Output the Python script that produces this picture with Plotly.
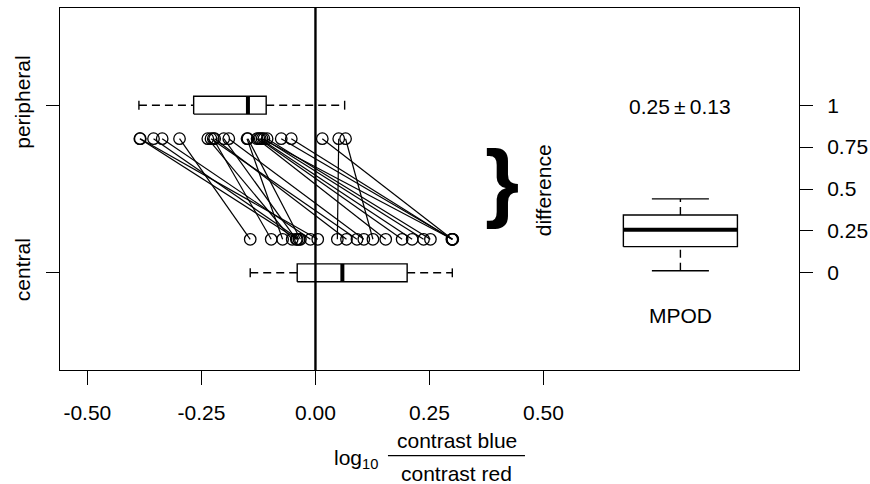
import plotly.graph_objects as go

# ---- data ----
peripheral = [-0.385, -0.384, -0.355, -0.336, -0.298, -0.236, -0.229, -0.224, -0.221, -0.201,
              -0.190, -0.150, -0.148, -0.128, -0.124, -0.121, -0.117, -0.113, -0.106, -0.075,
              -0.053, 0.015, 0.051, 0.066]
central = [-0.040, 0.005, -0.036, -0.011, -0.143, -0.051, 0.091, -0.097, 0.068, -0.042,
           0.106, -0.072, -0.033, 0.154, 0.190, 0.212, 0.300, 0.237, 0.252, 0.301,
           0.299, 0.300, 0.048, 0.126]
row_y = {"peripheral": 0.8, "central": 0.2}

box_names = ["peripheral", "central"]
box_pos = [1, 0]
box_lo = [-0.387, -0.143]
box_q1 = [-0.267, -0.040]
box_med = [-0.148, 0.059]
box_q3 = [-0.108, 0.201]
box_hi = [0.064, 0.300]

mpod_x = 0.8
mpod_stats = [0.012, 0.156, 0.257, 0.345, 0.441]  # lo, q1, med, q3, hi
mpod_label = "MPOD"
diff_text = "0.25\u2009\u00b1\u20090.13"

x_ticks = [-0.5, -0.25, 0.0, 0.25, 0.5]
x_ticktext = ["-0.50", "-0.25", "0.00", "0.25", "0.50"]
right_ticks = [0, 0.25, 0.5, 0.75, 1]
right_ticktext = ["0", "0.25", "0.5", "0.75", "1"]

FONT = "Liberation Sans, Arial, sans-serif"
LW = 1.4
DASH = "8px,5px"
fig = go.Figure()

# zero line
fig.add_trace(go.Scatter(x=[0, 0], y=[-0.58, 1.58], mode="lines",
                         line=dict(color="black", width=2.4), hoverinfo="skip", showlegend=False))

# connecting lines
lx, ly = [], []
for p, c in zip(peripheral, central):
    lx += [p, c, None]
    ly += [row_y["peripheral"], row_y["central"], None]
fig.add_trace(go.Scatter(x=lx, y=ly, mode="lines", line=dict(color="black", width=1.2),
                         hoverinfo="skip", showlegend=False))
# points
fig.add_trace(go.Scatter(x=peripheral + central,
                         y=[row_y["peripheral"]] * len(peripheral) + [row_y["central"]] * len(central),
                         mode="markers",
                         marker=dict(symbol="circle-open", size=11.5, color="black", line=dict(width=1.3)),
                         showlegend=False))

# horizontal boxplots
hw = 0.053
for pos, lo, q1, med, q3, hi in zip(box_pos, box_lo, box_q1, box_med, box_q3, box_hi):
    fig.add_trace(go.Scatter(x=[q1, q3, q3, q1, q1], y=[pos - hw, pos - hw, pos + hw, pos + hw, pos - hw],
                             mode="lines", line=dict(color="black", width=LW), showlegend=False, hoverinfo="skip"))
    fig.add_trace(go.Scatter(x=[med, med], y=[pos - hw, pos + hw], mode="lines",
                             line=dict(color="black", width=4), showlegend=False, hoverinfo="skip"))
    fig.add_trace(go.Scatter(x=[lo, q1, None, q3, hi], y=[pos, pos, None, pos, pos], mode="lines",
                             line=dict(color="black", width=LW, dash=DASH), showlegend=False, hoverinfo="skip"))
    fig.add_trace(go.Scatter(x=[lo, lo, None, hi, hi],
                             y=[pos - hw / 2, pos + hw / 2, None, pos - hw / 2, pos + hw / 2],
                             mode="lines", line=dict(color="black", width=LW), showlegend=False, hoverinfo="skip"))

# vertical MPOD boxplot
bw = 0.125
lo, q1, med, q3, hi = mpod_stats
X = mpod_x
fig.add_trace(go.Scatter(x=[X - bw, X + bw, X + bw, X - bw, X - bw], y=[q1, q1, q3, q3, q1],
                         mode="lines", line=dict(color="black", width=LW), showlegend=False, hoverinfo="skip"))
fig.add_trace(go.Scatter(x=[X - bw, X + bw], y=[med, med], mode="lines",
                         line=dict(color="black", width=4), showlegend=False, hoverinfo="skip"))
fig.add_trace(go.Scatter(x=[X, X, None, X, X], y=[lo, q1, None, q3, hi], mode="lines",
                         line=dict(color="black", width=LW, dash=DASH), showlegend=False, hoverinfo="skip"))
fig.add_trace(go.Scatter(x=[X - bw / 2, X + bw / 2, None, X - bw / 2, X + bw / 2], y=[lo, lo, None, hi, hi],
                         mode="lines", line=dict(color="black", width=LW), showlegend=False, hoverinfo="skip"))

# dummy trace for right axis
fig.add_trace(go.Scatter(x=[None], y=[None], yaxis="y2", showlegend=False))

tf = dict(family=FONT, size=21, color="black")
fig.update_layout(
    width=870, height=484,
    margin=dict(l=60, r=71, t=8, b=114, autoexpand=False),
    paper_bgcolor="white", plot_bgcolor="white",
    showlegend=False,
    font=tf,
    xaxis=dict(range=[-0.56, 1.06], tickvals=x_ticks, ticktext=x_ticktext, ticks="outside",
               ticklen=14, tickwidth=1.3, tickcolor="black", showgrid=False, zeroline=False,
               showline=True, mirror=True, linecolor="black", linewidth=1.4, tickfont=tf,
               ticklabelstandoff=10, automargin=False),
    yaxis=dict(range=[-0.58, 1.58], tickvals=box_pos, ticktext=box_names, tickangle=-90,
               ticks="outside", ticklen=13, tickwidth=1.3, tickcolor="black", showgrid=False,
               zeroline=False, showline=True, mirror=True, linecolor="black", linewidth=1.4, tickfont=tf,
               ticklabelstandoff=7, automargin=False),
    yaxis2=dict(range=[-0.58, 1.58], overlaying="y", side="right", tickvals=right_ticks,
                ticktext=right_ticktext, ticks="outside", ticklen=13, tickwidth=1.3, tickcolor="black",
                showgrid=False, zeroline=False, showline=False, tickfont=tf, ticklabelstandoff=10,
                automargin=False),
)

C = dict(xanchor="center", yanchor="middle", showarrow=False)
ann = [
    dict(x=mpod_x, y=0.99, xref="x", yref="y", text=diff_text, font=tf, **C),
    dict(x=mpod_x, y=-0.257, xref="x", yref="y", text=mpod_label, font=tf, **C),
    dict(x=0.50, y=0.49, xref="x", yref="y", text="difference", textangle=-90, font=tf, **C),
    dict(x=0.408, y=0.55, xref="x", yref="y", text="<b>}</b>",
         font=dict(family=FONT, size=88, color="black"), **C),
    dict(x=0.401, y=-0.246, xref="paper", yref="paper", text="log<sub>10</sub>", font=tf, **C),
    dict(x=0.537, y=-0.196, xref="paper", yref="paper", text="contrast blue", font=tf, **C),
    dict(x=0.537, y=-0.285, xref="paper", yref="paper", text="contrast red", font=tf, height=20, **C),
]
fig.update_layout(annotations=ann)
fig.add_shape(type="line", xref="paper", yref="paper", x0=0.4438, x1=0.6292, y0=-0.2368, y1=-0.2368,
              line=dict(color="black", width=1.3))

fig.write_html("out.html", config={"displayModeBar": False},
               post_script="document.body.style.margin='0px';")
